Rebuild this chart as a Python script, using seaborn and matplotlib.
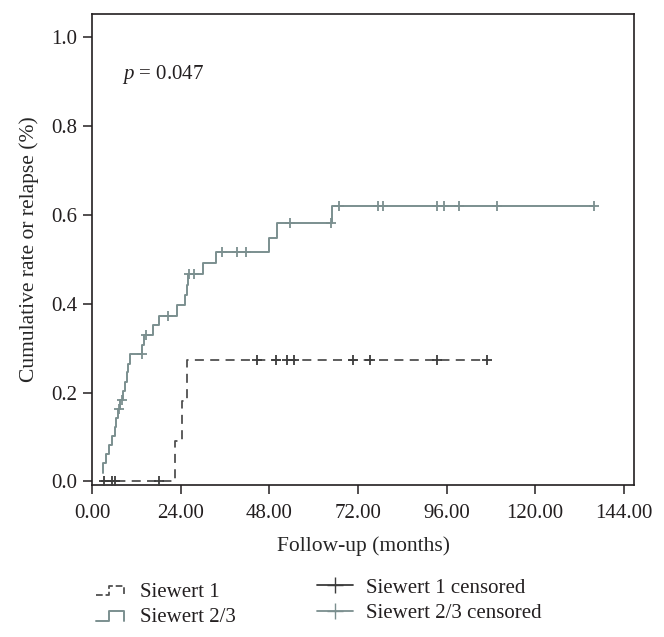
import numpy as np
import pandas as pd
import matplotlib
matplotlib.use('Agg')
import matplotlib.pyplot as plt
import seaborn as sns
from matplotlib.lines import Line2D
from matplotlib.legend_handler import HandlerBase

# Siewert 1 cumulative relapse curve (months, rate)
s1_time = [2.4, 22.4, 24.3, 25.8, 107.0]
s1_rate = [0.0, 0.091, 0.182, 0.273, 0.273]
s1_cens_time = [3.2, 5.5, 6.1, 18.1, 44.7, 49.7, 52.9, 54.8, 70.6, 75.4, 93.4, 107.0]
s1_cens_rate = [0.0, 0.0, 0.0, 0.0, 0.273, 0.273, 0.273, 0.273, 0.273, 0.273, 0.273, 0.273]

# Siewert 2/3 cumulative relapse curve
s23_time = [3.0, 3.0, 3.9, 4.6, 5.3, 6.1, 6.6, 6.9, 7.7, 8.4, 8.9, 9.4, 9.8, 10.2,
            13.6, 14.1, 16.5, 18.1, 23.1, 25.1, 25.6, 26.1, 30.1, 33.6, 48.0, 50.2,
            64.9, 135.8]
s23_rate = [0.020, 0.041, 0.061, 0.082, 0.102, 0.122, 0.143, 0.163, 0.184, 0.204,
            0.224, 0.245, 0.265, 0.286, 0.306, 0.330, 0.352, 0.373, 0.397, 0.420,
            0.441, 0.467, 0.492, 0.516, 0.548, 0.581, 0.620, 0.620]
s23_cens_time = [7.2, 8.2, 13.4, 14.5, 20.6, 26.3, 27.7, 35.3, 39.3, 41.7, 53.6, 64.7,
                 66.8, 77.4, 78.7, 93.3, 95.2, 99.3, 109.8, 135.8]
s23_cens_rate = [0.163, 0.184, 0.286, 0.330, 0.373, 0.467, 0.467, 0.516, 0.516, 0.516,
                 0.581, 0.581, 0.620, 0.620, 0.620, 0.620, 0.620, 0.620, 0.620, 0.620]

x_ticks = [0, 24, 48, 72, 96, 120, 144]
y_ticks = [0.0, 0.2, 0.4, 0.6, 0.8, 1.0]

c_s1 = '#505050'
c_s1_cens = '#3c3c3c'
c_s23 = '#7b8f8f'
dash = (0, (5, 3.5))

sns.set_theme(style='ticks')
plt.rcParams['font.family'] = ['Liberation Serif', 'DejaVu Serif']
plt.rcParams['mathtext.fontset'] = 'custom'
plt.rcParams['mathtext.it'] = 'Liberation Serif:italic'
plt.rcParams['mathtext.rm'] = 'Liberation Serif'
plt.rcParams['text.color'] = '#231f20'


class StepHandler(HandlerBase):
    # draws a small step shape as legend icon
    def create_artists(self, legend, orig_handle, xdescent, ydescent, width, height, fontsize, trans):
        xs = np.array([0, 0.45, 0.45, 1.0, 1.0]) * width - xdescent
        ys = np.array([0.1, 0.1, 0.75, 0.75, 0.1]) * height - ydescent
        line = Line2D(xs, ys, color=orig_handle.get_color(), linestyle=orig_handle.get_linestyle(),
                      linewidth=orig_handle.get_linewidth())
        line.set_transform(trans)
        return [line]


fig = plt.figure(figsize=(6.64, 6.37), dpi=100)
ax = fig.add_axes([0.1386, 0.2386, 0.8164, 0.7394])

sns.lineplot(x=s1_time, y=s1_rate, drawstyle='steps-post', estimator=None, sort=False,
             color=c_s1, linewidth=1.3, linestyle=dash, ax=ax)
sns.lineplot(x=s23_time, y=s23_rate, drawstyle='steps-post', estimator=None, sort=False,
             color=c_s23, linewidth=1.4, ax=ax)
sns.scatterplot(x=s1_cens_time, y=s1_cens_rate, marker='+', s=55, color=c_s1_cens,
                linewidth=1.3, ax=ax, zorder=4)
sns.scatterplot(x=s23_cens_time, y=s23_cens_rate, marker='+', s=55, color=c_s23,
                linewidth=1.3, ax=ax, zorder=4)

ax.set_xlim(0, 146.8)
ax.set_ylim(-0.008, 1.051)
ax.set_xticks(x_ticks)
ax.set_xticklabels([f'{v:.2f}' for v in x_ticks])
ax.set_yticks(y_ticks)
ax.set_yticklabels([f'{v:.1f}' for v in y_ticks])
ax.tick_params(axis='both', direction='out', length=6.5, width=1.1, labelsize=15,
               colors='#231f20', pad=4)
ax.tick_params(axis='x', pad=7.5)
for sp in ax.spines.values():
    sp.set_visible(True)
    sp.set_color('#231f20')
    sp.set_linewidth(1.2)

ax.set_xlabel('Follow-up (months)', fontsize=15.5, labelpad=9.5)
ax.set_ylabel('Cumulative rate or relapse (%)', fontsize=15.5, labelpad=9)
ax.text(8.2, 0.905, '$p$ = 0.047', fontsize=15, va='baseline')

h_left = [Line2D([], [], color=c_s1, linestyle=dash, linewidth=1.3),
          Line2D([], [], color=c_s23, linewidth=1.4)]
fig.legend(h_left, ['Siewert 1', 'Siewert 2/3'], handler_map={Line2D: StepHandler()},
           loc='upper left', bbox_to_anchor=(96 / 664, 1 - 582 / 637), frameon=False,
           fontsize=15, handlelength=1.35, handletextpad=0.75, labelspacing=0.3,
           borderpad=0, borderaxespad=0)

h_right = [Line2D([], [], color=c_s1_cens, marker='+', markersize=11, linewidth=1.3),
           Line2D([], [], color=c_s23, marker='+', markersize=11, linewidth=1.3)]
fig.legend(h_right, ['Siewert 1 censored', 'Siewert 2/3 censored'], loc='upper left',
           bbox_to_anchor=(317 / 664, 1 - 578 / 637), frameon=False, numpoints=1,
           fontsize=15, handlelength=1.75, handletextpad=0.6, labelspacing=0.3,
           borderpad=0, borderaxespad=0)

fig.savefig('out.png', dpi=100)
